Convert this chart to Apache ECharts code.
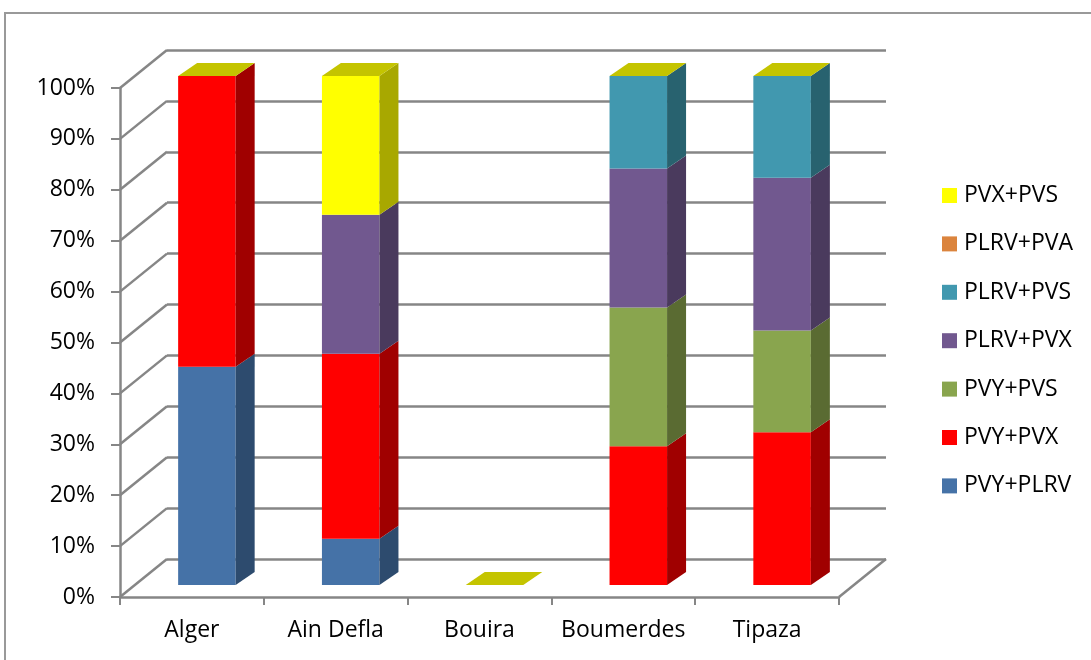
<!DOCTYPE html>
<html>
<head>
<meta charset="utf-8">
<script src="https://cdn.jsdelivr.net/npm/echarts@6/dist/echarts.min.js"></script>
<style>
  html, body { margin: 0; padding: 0; background: #fff; }
  #chart-box { width: 1091px; height: 660px; }
</style>
</head>
<body>
<div id="chart-box"></div>
<script>
var categories = ['Alger', 'Ain Defla', 'Bouira', 'Boumerdes', 'Tipaza'];
var seriesNames = ['PVY+PLRV', 'PVY+PVX', 'PVY+PVS', 'PLRV+PVX', 'PLRV+PVS', 'PLRV+PVA', 'PVX+PVS'];
var pvyPlrv = [42.86, 9.09, 0, 0, 0];
var pvyPvx = [57.14, 36.36, 0, 27.27, 30];
var pvyPvs = [0, 0, 0, 27.27, 20];
var plrvPvx = [0, 27.27, 0, 27.27, 30];
var plrvPvs = [0, 0, 0, 18.19, 20];
var plrvPva = [0, 0, 0, 0, 0];
var pvxPvs = [0, 27.28, 0, 0, 0];
var yTicks = [0, 10, 20, 30, 40, 50, 60, 70, 80, 90, 100];

var values = [pvyPlrv, pvyPvx, pvyPvs, plrvPvx, plrvPvs, plrvPva, pvxPvs];
var frontColors = ['#4572A7', '#FF0000', '#89A54E', '#71588F', '#4198AF', '#DB843D', '#FFFF00'];
var sideColors = ['#2D4B6E', '#A00000', '#5A6B32', '#4A3A5D', '#28626F', '#904F22', '#A8A800'];
var topColor = '#C4C400';
var lineColor = '#868686';
var font = '"Open Sans", sans-serif';

// oblique offsets
var DX = 19, DY = -13;       // bar depth
var WX = 47, WY = -38;       // floor depth

var myChart = echarts.init(document.getElementById('chart-box'));

// stacked data per series: [cat, base, value]
var stacked = [];
var bases = categories.map(function () { return 0; });
for (var s = 0; s < values.length; s++) {
    var rows = [];
    for (var i = 0; i < categories.length; i++) {
        rows.push([i, bases[i], values[s][i]]);
        bases[i] += values[s][i];
    }
    stacked.push(rows);
}

function barRenderer(s) {
    var isTop = s === values.length - 1;
    return function (params, api) {
        var cat = api.value(0), base = api.value(1), val = api.value(2);
        var w = api.size([1, 0])[0] * 0.4;
        var p0 = api.coord([cat, base]);
        var p1 = api.coord([cat, base + val]);
        var x = p0[0] - w / 2;
        var children = [];
        if (val > 0) {
            children.push({
                type: 'rect',
                shape: { x: x, y: p1[1], width: w, height: p0[1] - p1[1] },
                style: { fill: frontColors[s] }
            });
            children.push({
                type: 'polygon',
                shape: { points: [[x + w, p0[1]], [x + w, p1[1]], [x + w + DX, p1[1] + DY], [x + w + DX, p0[1] + DY]] },
                style: { fill: sideColors[s] }
            });
        }
        if (isTop) {
            children.push({
                type: 'polygon',
                shape: { points: [[x, p1[1]], [x + w, p1[1]], [x + w + DX, p1[1] + DY], [x + DX, p1[1] + DY]] },
                style: { fill: topColor }
            });
        }
        return { type: 'group', children: children };
    };
}

function diagRenderer(params, api) {
    var cs = params.coordSys;
    var y = api.coord([0, api.value(0)])[1];
    var children = [{
        type: 'line',
        shape: { x1: cs.x, y1: y, x2: cs.x + WX, y2: y + WY },
        style: { stroke: lineColor, lineWidth: 2.5 }
    }];
    if (api.value(0) === 0) {
        children.push({
            type: 'line',
            shape: { x1: cs.x + cs.width, y1: y, x2: cs.x + cs.width + WX, y2: y + WY },
            style: { stroke: lineColor, lineWidth: 2.5 }
        });
    }
    return { type: 'group', children: children };
}

var series = [{
    type: 'custom',
    name: 'walls',
    xAxisIndex: 0,
    yAxisIndex: 0,
    silent: true,
    z: 1,
    data: yTicks.map(function (v) { return [v]; }),
    encode: { y: 0 },
    renderItem: diagRenderer
}];
for (var k = 0; k < values.length; k++) {
    series.push({
        type: 'custom',
        name: seriesNames[k],
        xAxisIndex: 1,
        yAxisIndex: 1,
        z: 5,
        itemStyle: { color: frontColors[k] },
        data: stacked[k],
        encode: { x: 0, y: 2 },
        renderItem: barRenderer(k)
    });
}

var option = {
    animation: false,
    backgroundColor: '#fff',
    graphic: [{
        type: 'rect',
        shape: { x: 5, y: 13, width: 1200, height: 800 },
        style: { fill: null, stroke: '#999', lineWidth: 2 },
        z: 0
    }],
    legend: {
        orient: 'vertical',
        left: 942,
        top: 184,
        padding: 0,
        itemWidth: 15,
        itemHeight: 15,
        itemGap: 25.4,
        icon: 'rect',
        data: seriesNames.slice().reverse(),
        textStyle: { fontFamily: font, fontSize: 23, color: '#000', lineHeight: 23, padding: [0, 0, 0, 2] }
    },
    grid: [
        { left: 120, top: 88, width: 719, height: 509 },
        { left: 135, top: 76, width: 719, height: 509 },
        { left: 167, top: 50, width: 719, height: 509 }
    ],
    xAxis: [{
        type: 'category',
        gridIndex: 0,
        data: categories,
        axisLine: { lineStyle: { color: lineColor, width: 2.5 } },
        axisTick: { show: true, interval: 0, length: 8, lineStyle: { color: lineColor, width: 2 } },
        axisLabel: { interval: 0, fontFamily: font, fontSize: 23, color: '#000', margin: 22 }
    }, {
        type: 'category',
        gridIndex: 1,
        data: categories,
        show: false
    }, {
        type: 'category',
        gridIndex: 2,
        data: categories,
        show: false
    }],
    yAxis: [{
        type: 'value',
        gridIndex: 0,
        min: 0,
        max: 100,
        interval: 10,
        axisLine: { show: true, lineStyle: { color: lineColor, width: 2.5 } },
        axisTick: { show: true, length: 9, lineStyle: { color: lineColor, width: 2 } },
        splitLine: { show: false },
        axisLabel: { formatter: '{value}%', fontFamily: font, fontSize: 23, color: '#000', margin: 25 }
    }, {
        type: 'value',
        gridIndex: 1,
        min: 0,
        max: 100,
        interval: 10,
        show: false,
        splitLine: { show: false }
    }, {
        type: 'value',
        gridIndex: 2,
        min: 0,
        max: 100,
        interval: 10,
        axisLine: { show: false },
        axisTick: { show: false },
        axisLabel: { show: false },
        splitLine: { show: true, lineStyle: { color: lineColor, width: 2.5 } }
    }],
    series: series
};
myChart.setOption(option);
</script>
</body>
</html>
